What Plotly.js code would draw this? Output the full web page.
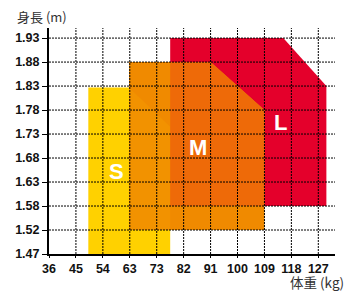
<!DOCTYPE html>
<html>
<head>
<meta charset="utf-8">
<script src="https://cdn.plot.ly/plotly-3.0.1.min.js"></script>
<style>html,body{margin:0;padding:0;background:#fff;}#chart{width:345px;height:293px;}</style>
</head>
<body>
<div id="chart"></div>
<script>
// Tick labels (equally spaced steps)
const weightLabels = ['36','45','54','63','73','82','91','100','109','118','127'];
const heightLabels = ['1.47','1.52','1.58','1.63','1.68','1.73','1.78','1.83','1.88','1.93'];

// Size regions, in tick-step units (x: weight step, y: height step)
const sizeS_x = [1.46, 1.46, 2.97, 4.5, 4.5];
const sizeS_y = [0, 6.94, 6.94, 5.3, 0];
const sizeM_x = [2.97, 2.97, 6, 8, 8];
const sizeM_y = [1, 8, 8, 6, 1];
const sizeL_x = [4.5, 4.5, 8.7, 10.3, 10.3];
const sizeL_y = [2, 9, 9, 7, 2];
// Overlap areas
const overlapMS_x = [2.97, 2.97, 4.5, 4.5];
const overlapMS_y = [1, 6.94, 5.3, 1];
const overlapML_x = [4.5, 4.5, 6, 8, 8];
const overlapML_y = [2, 8, 8, 6, 2];

const labels = ['S', 'M', 'L'];
const labelX = [2.52, 5.53, 8.58];
const labelY = [3.42, 4.46, 5.47];

function poly(x, y, color) {
  return {type: 'scatter', mode: 'lines', x: x, y: y, fill: 'toself', fillcolor: color,
          line: {width: 0, color: color}, hoverinfo: 'skip', showlegend: false};
}

const traces = [
  poly(sizeS_x, sizeS_y, '#FFD100'),
  poly(sizeL_x, sizeL_y, '#E4002B'),
  poly(sizeM_x, sizeM_y, '#F08A00'),
  poly(overlapMS_x, overlapMS_y, '#F29200'),
  poly(overlapML_x, overlapML_y, '#EE6A08')
];

const xMax = 10.62, yMax = 9.42;
const shapes = [];
for (let i = 1; i < weightLabels.length; i++) {
  shapes.push({type: 'line', layer: 'above', xref: 'x', yref: 'paper', x0: i, x1: i, y0: 0, y1: 1,
               line: {color: '#000', width: 1, dash: '2px,1px'}});
}
for (let j = 1; j < heightLabels.length; j++) {
  shapes.push({type: 'line', layer: 'above', xref: 'paper', yref: 'y', x0: 0, x1: 1, y0: j, y1: j,
               line: {color: '#000', width: 1, dash: '2px,1px'}});
}

const annotations = labels.map((t, k) => ({
  text: t, x: labelX[k], y: labelY[k], xref: 'x', yref: 'y', showarrow: false,
  font: {family: 'Liberation Sans, Arial, sans-serif', size: 22, color: '#fff', weight: 'bold'}
}));
annotations.push({text: '身長 (m)', xref: 'paper', yref: 'paper', x: -0.119, y: 1.049,
  xanchor: 'left', yanchor: 'middle', showarrow: false,
  font: {family: 'Noto Sans CJK JP, sans-serif', size: 13, color: '#333'}});
annotations.push({text: '体重 (kg)', xref: 'paper', yref: 'paper', x: 1.035, y: -0.173,
  xanchor: 'right', yanchor: 'bottom', showarrow: false, borderpad: 0,
  font: {family: 'Noto Sans CJK JP, sans-serif', size: 13.5, color: '#333'}});

const tickFont = {family: 'Liberation Sans, Arial, sans-serif', size: 12.5, color: '#111', weight: 'bold'};

const layout = {
  width: 345, height: 293,
  margin: {l: 49, r: 10, t: 28, b: 39},
  paper_bgcolor: '#fff', plot_bgcolor: '#fff',
  showlegend: false,
  xaxis: {range: [0, xMax], tickmode: 'array', tickvals: weightLabels.map((_, i) => i), ticktext: weightLabels,
          showgrid: false, zeroline: false, showline: true, linecolor: '#000', linewidth: 2,
          ticks: 'outside', ticklen: 2, tickwidth: 1, tickcolor: '#000', tickfont: tickFont,
          layer: 'above traces', fixedrange: true},
  yaxis: {range: [0, yMax], tickmode: 'array', tickvals: heightLabels.map((_, i) => i), ticktext: heightLabels,
          showgrid: false, zeroline: false, showline: true, linecolor: '#000', linewidth: 2,
          ticks: 'outside', ticklen: 5, tickwidth: 1, tickcolor: '#000', tickfont: tickFont,
          layer: 'above traces', fixedrange: true},
  shapes: shapes,
  annotations: annotations
};

Plotly.newPlot('chart', traces, layout, {displayModeBar: false, staticPlot: true});
</script>
</body>
</html>
